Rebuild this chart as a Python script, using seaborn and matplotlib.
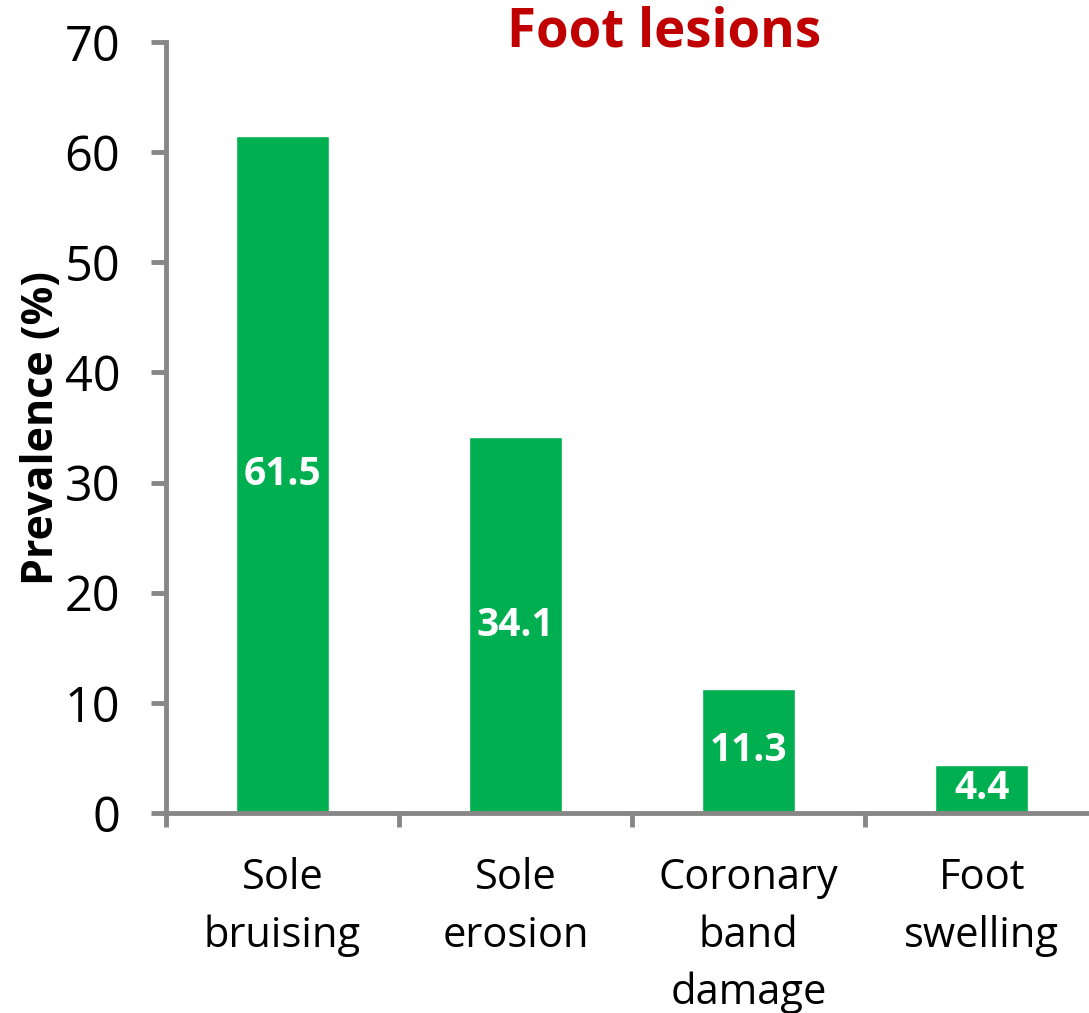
import matplotlib
matplotlib.use("Agg")
import matplotlib.pyplot as plt
import pandas as pd
import seaborn as sns

# values
categories = ["Sole\nbruising", "Sole\nerosion", "Coronary\nband\ndamage", "Foot\nswelling"]
prevalence = [61.5, 34.1, 11.3, 4.4]
yticks = [0, 10, 20, 30, 40, 50, 60, 70]

green = "#00B050"
grey = "#878787"

sns.set_style("white")
plt.rcParams["font.family"] = ["Open Sans", "DejaVu Sans"]
plt.rcParams["text.color"] = "black"
plt.rcParams["xtick.labelcolor"] = "black"
plt.rcParams["ytick.labelcolor"] = "black"

df = pd.DataFrame({"lesion": categories, "prevalence": prevalence})

fig = plt.figure(figsize=(10.89, 10.13), dpi=100)
ax = fig.add_axes([0.1524, 0.1974, 0.8476, 0.7611])

sns.barplot(data=df, x="lesion", y="prevalence", color=green, width=0.4,
            saturation=1, ax=ax)

for i, v in enumerate(prevalence):
    ax.text(i, v / 2, f"{v:.1f}", ha="center", va="center", color="white",
            fontsize=28, fontweight="bold")

ax.set_xlim(-0.5, 3.46)
ax.set_ylim(0, 70)
ax.set_yticks(yticks)
ax.set_xlabel("")
ax.set_ylabel("Prevalence (%)", fontsize=31, fontweight="bold", labelpad=1,
              color="black")

for side in ["top", "right"]:
    ax.spines[side].set_visible(False)
for side in ["left", "bottom"]:
    ax.spines[side].set_color(grey)
    ax.spines[side].set_linewidth(3.5)

ax.tick_params(axis="y", direction="out", length=11, width=3.5, color=grey,
               labelsize=35, pad=22, left=True)
ax.tick_params(axis="x", which="major", length=0, labelsize=30, pad=32)
ax.set_xticks([-0.5, 0.5, 1.5, 2.5], minor=True)
ax.tick_params(axis="x", which="minor", direction="out", length=10, width=3.5,
               color=grey, bottom=True)
for lbl in ax.get_xticklabels():
    lbl.set_linespacing(1.47)

fig.text(0.61, 0.968, "Foot lesions", ha="center", va="center", color="#C00000",
         fontsize=38, fontweight="bold")

plt.savefig("out.png", dpi=100)
plt.close()
